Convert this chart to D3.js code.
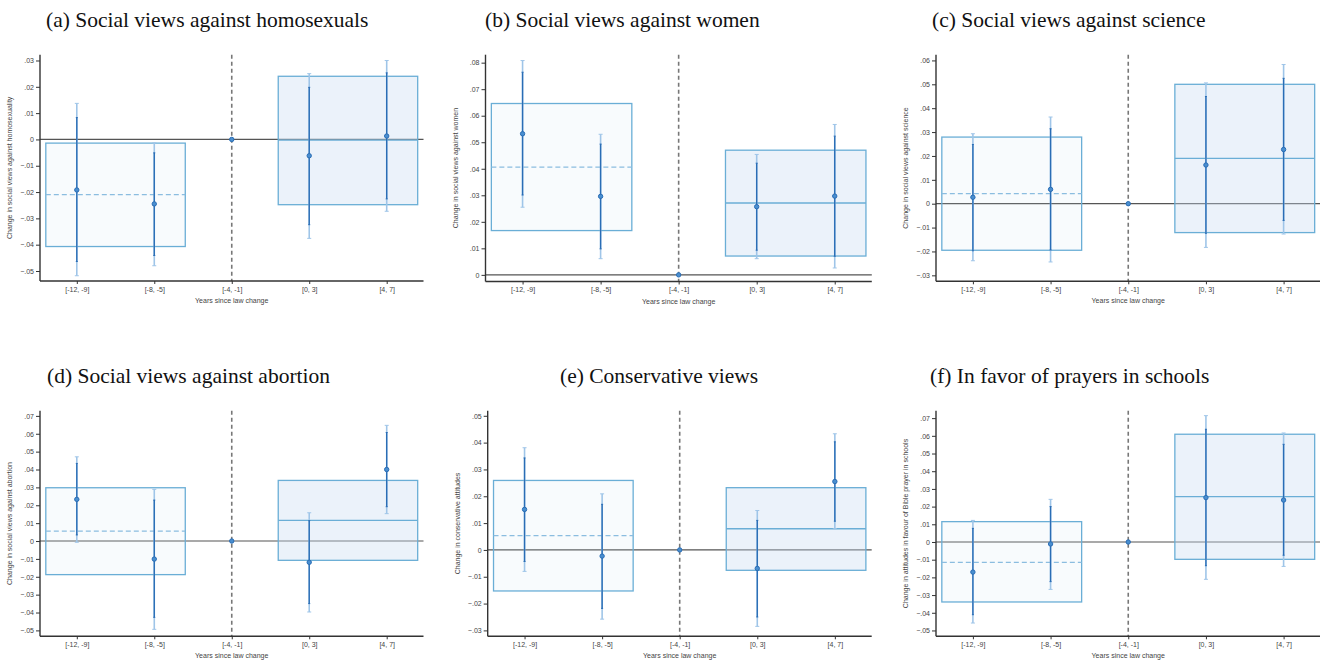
<!DOCTYPE html>
<html><head><meta charset="utf-8">
<script src="https://cdn.jsdelivr.net/npm/d3@7"></script>
<style>
body{margin:0;background:#fff;}
svg{display:block;}
</style></head>
<body>
<svg id="chart" width="1320" height="660"></svg>
<script>
// ---------- DATA ----------
const categories = ["[-12, -9]", "[-8, -5]", "[-4, -1]", "[0, 3]", "[4, 7]"];
const xTitle = "Years since law change";
const titles = [
  "(a) Social views against homosexuals",
  "(b) Social views against women",
  "(c) Social views against science",
  "(d) Social views against abortion",
  "(e) Conservative views",
  "(f) In favor of prayers in schools"
];
const yTitles = [
  "Change in social views against homosexuality",
  "Change in social views against women",
  "Change in social views against science",
  "Change in social views against abortion",
  "Change in conservative attitudes",
  "Change in attitudes in favour of Bible prayer in schools"
];
// point estimates per panel (5 periods)
const estimates = [
  [-0.0192, -0.0245, 0, -0.0062, 0.0013],
  [0.0532, 0.0296, 0, 0.0257, 0.0297],
  [0.0027, 0.0060, 0, 0.0162, 0.0227],
  [0.0233, -0.0101, 0, -0.0119, 0.0400],
  [0.0151, -0.0023, 0, -0.0069, 0.0255],
  [-0.0170, -0.0011, 0, 0.0251, 0.0237]
];
// inner (dark) confidence interval
const innerLow = [
  [-0.0464, -0.0441, 0, -0.0324, -0.0226],
  [0.0301, 0.0098, 0, 0.0093, 0.0070],
  [-0.0197, -0.0194, 0, -0.0124, -0.0070],
  [0.0034, -0.0427, 0, -0.0350, 0.0192],
  [-0.0043, -0.0218, 0, -0.0250, 0.0107],
  [-0.0411, -0.0224, 0, -0.0134, -0.0075]
];
const innerHigh = [
  [0.0083, -0.0051, 0, 0.0198, 0.0253],
  [0.0764, 0.0493, 0, 0.0421, 0.0523],
  [0.0248, 0.0314, 0, 0.0449, 0.0525],
  [0.0434, 0.0229, 0, 0.0114, 0.0607],
  [0.0343, 0.0170, 0, 0.0110, 0.0403],
  [0.0077, 0.0200, 0, 0.0637, 0.0552]
];
// outer (light) confidence interval
const outerLow = [
  [-0.0518, -0.0480, 0, -0.0376, -0.0273],
  [0.0255, 0.0061, 0, 0.0061, 0.0026],
  [-0.0239, -0.0244, 0, -0.0183, -0.0127],
  [-0.0007, -0.0494, 0, -0.0397, 0.0153],
  [-0.0080, -0.0258, 0, -0.0285, 0.0079],
  [-0.0458, -0.0268, 0, -0.0211, -0.0138]
];
const outerHigh = [
  [0.0137, -0.0013, 0, 0.0250, 0.0300],
  [0.0808, 0.0530, 0, 0.0454, 0.0567],
  [0.0293, 0.0363, 0, 0.0506, 0.0583],
  [0.0471, 0.0289, 0, 0.0158, 0.0647],
  [0.0381, 0.0209, 0, 0.0147, 0.0433],
  [0.0122, 0.0241, 0, 0.0714, 0.0616]
];
// pooled pre-period and post-period estimates with interval
const preMean  = [-0.0210, 0.0406, 0.0042, 0.0055, 0.0053, -0.0115];
const preLow   = [-0.0407, 0.0167, -0.0195, -0.0188, -0.0153, -0.0339];
const preHigh  = [-0.0014, 0.0646, 0.0279, 0.0298, 0.0259, 0.0115];
const postMean = [-0.0003, 0.0271, 0.0190, 0.0116, 0.0079, 0.0256];
const postLow  = [-0.0248, 0.0071, -0.0121, -0.0108, -0.0076, -0.0098];
const postHigh = [0.0240, 0.0470, 0.0500, 0.0339, 0.0232, 0.0609];
// y-axis ranges and tick ranges
const yMin = [-0.0538, -0.0025, -0.0325, -0.0533, -0.0322, -0.0533];
const yMax = [0.0322, 0.0830, 0.0624, 0.0729, 0.0519, 0.0742];
const tickMin = [-0.05, 0, -0.03, -0.05, -0.03, -0.05];
const tickMax = [0.03, 0.08, 0.06, 0.07, 0.05, 0.07];
// pooled window extents in category units
const preSpan = [-0.4, 1.4];
const postSpan = [2.6, 4.4];

// ---------- LAYOUT ----------
const layout = [
  {left: 40,    width: 383.5, top: 54.7,  bottom: 281,   titleX: 46,  titleY: 27},
  {left: 485.5, width: 386.3, top: 54.7,  bottom: 281.5, titleX: 485, titleY: 27},
  {left: 936,   width: 384.5, top: 54.7,  bottom: 281.3, titleX: 932, titleY: 27},
  {left: 40,    width: 383.5, top: 410.7, bottom: 636.3, titleX: 47,  titleY: 383},
  {left: 487.7, width: 384,   top: 410.7, bottom: 636.3, titleX: 560, titleY: 383},
  {left: 936,   width: 384.5, top: 410.7, bottom: 636.3, titleX: 930, titleY: 383}
];

const C = {
  axis: "#333333", text: "#444444", zero: "#555555", vline: "#777777",
  boxStroke: "#6aaed6", boxFill: "#c7dcf0",
  dark: "#2a6db5", light: "#9fc5e8", point: "#4a8fd0"
};

const svg = d3.select("#chart");
const fmt = v => {
  if (Math.abs(v) < 1e-9) return "0";
  return d3.format(".2f")(v).replace("0.", ".");
};

layout.forEach((L, i) => {
  const g = svg.append("g");
  const x = d3.scaleLinear().domain([-0.475, 4.475]).range([L.left, L.left + L.width]);
  const y = d3.scaleLinear().domain([yMin[i], yMax[i]]).range([L.bottom, L.top]);

  // title
  svg.append("text")
    .attr("x", L.titleX).attr("y", L.titleY)
    .attr("font-family", "'Liberation Serif', 'DejaVu Serif', serif")
    .attr("font-size", 21.5).attr("fill", "#111")
    .text(titles[i]);

  // zero line
  g.append("line")
    .attr("x1", L.left).attr("x2", L.left + L.width)
    .attr("y1", y(0)).attr("y2", y(0))
    .attr("stroke", C.zero).attr("stroke-width", 1.2);

  // pooled boxes
  const boxes = [
    {span: preSpan, lo: preLow[i], hi: preHigh[i], m: preMean[i], op: 0.12, dash: "5,3", mc: "#8bbde0"},
    {span: postSpan, lo: postLow[i], hi: postHigh[i], m: postMean[i], op: 0.36, dash: null, mc: C.boxStroke}
  ];
  boxes.forEach(b => {
    g.append("rect")
      .attr("x", x(b.span[0])).attr("width", x(b.span[1]) - x(b.span[0]))
      .attr("y", y(b.hi)).attr("height", y(b.lo) - y(b.hi))
      .attr("fill", C.boxFill).attr("fill-opacity", b.op)
      .attr("stroke", C.boxStroke).attr("stroke-width", 1.3);
    g.append("line")
      .attr("x1", x(b.span[0])).attr("x2", x(b.span[1]))
      .attr("y1", y(b.m)).attr("y2", y(b.m))
      .attr("stroke", b.mc).attr("stroke-width", 1.3)
      .attr("stroke-dasharray", b.dash);
  });

  // vertical dashed reference line
  g.append("line")
    .attr("x1", x(2)).attr("x2", x(2))
    .attr("y1", L.top).attr("y2", L.bottom)
    .attr("stroke", C.vline).attr("stroke-width", 1.6)
    .attr("stroke-dasharray", "4,3");

  // axes
  const ticks = d3.range(Math.round(tickMin[i] * 100), Math.round(tickMax[i] * 100) + 1).map(v => v / 100);
  const yAxis = d3.axisLeft(y).tickValues(ticks).tickFormat(fmt).tickSize(4).tickPadding(2);
  const ya = g.append("g").attr("transform", `translate(${L.left},0)`).call(yAxis);
  const xAxis = d3.axisBottom(x).tickValues(d3.range(5)).tickFormat(d => categories[d]).tickSize(3).tickPadding(3);
  const xa = g.append("g").attr("transform", `translate(0,${L.bottom})`).call(xAxis);
  [ya, xa].forEach(a => {
    a.select(".domain").attr("stroke", C.axis).attr("stroke-width", 1.4)
      .attr("d", a === ya ? `M0,${L.top}V${L.bottom}` : `M${L.left},0H${L.left + L.width}`);
    a.selectAll(".tick line").attr("stroke", C.axis).attr("stroke-width", 1);
    a.selectAll(".tick text").attr("fill", C.text)
      .attr("font-family", "'Liberation Sans', Arial, sans-serif").attr("font-size", 7);
  });

  // axis titles
  g.append("text")
    .attr("transform", `translate(${L.left - 28},${(L.top + L.bottom) / 2}) rotate(-90)`)
    .attr("text-anchor", "middle")
    .attr("font-family", "'Liberation Sans', Arial, sans-serif").attr("font-size", 7)
    .attr("fill", C.text).text(yTitles[i]);
  g.append("text")
    .attr("x", L.left + L.width / 2).attr("y", L.bottom + 22)
    .attr("text-anchor", "middle")
    .attr("font-family", "'Liberation Sans', Arial, sans-serif").attr("font-size", 7)
    .attr("fill", C.text).text(xTitle);

  // confidence intervals
  const idx = d3.range(5).filter(k => k !== 2);
  const drawCI = (lo, hi, col, w, cap) => {
    const s = g.append("g");
    s.selectAll("line.v").data(idx).join("line")
      .attr("x1", k => x(k)).attr("x2", k => x(k))
      .attr("y1", k => y(lo[i][k])).attr("y2", k => y(hi[i][k]))
      .attr("stroke", col).attr("stroke-width", w);
    [lo, hi].forEach(arr => {
      s.selectAll(null).data(idx).join("line")
        .attr("x1", k => x(k) - cap).attr("x2", k => x(k) + cap)
        .attr("y1", k => y(arr[i][k])).attr("y2", k => y(arr[i][k]))
        .attr("stroke", col).attr("stroke-width", 1);
    });
  };
  drawCI(outerLow, outerHigh, C.light, 1.6, 2);
  drawCI(innerLow, innerHigh, C.dark, 1.4, 1);

  // points
  g.selectAll("circle").data(estimates[i]).join("circle")
    .attr("cx", (d, k) => x(k)).attr("cy", d => y(d))
    .attr("r", 2.2)
    .attr("fill", C.point).attr("stroke", C.dark).attr("stroke-width", 1);
});
</script>
</body></html>
